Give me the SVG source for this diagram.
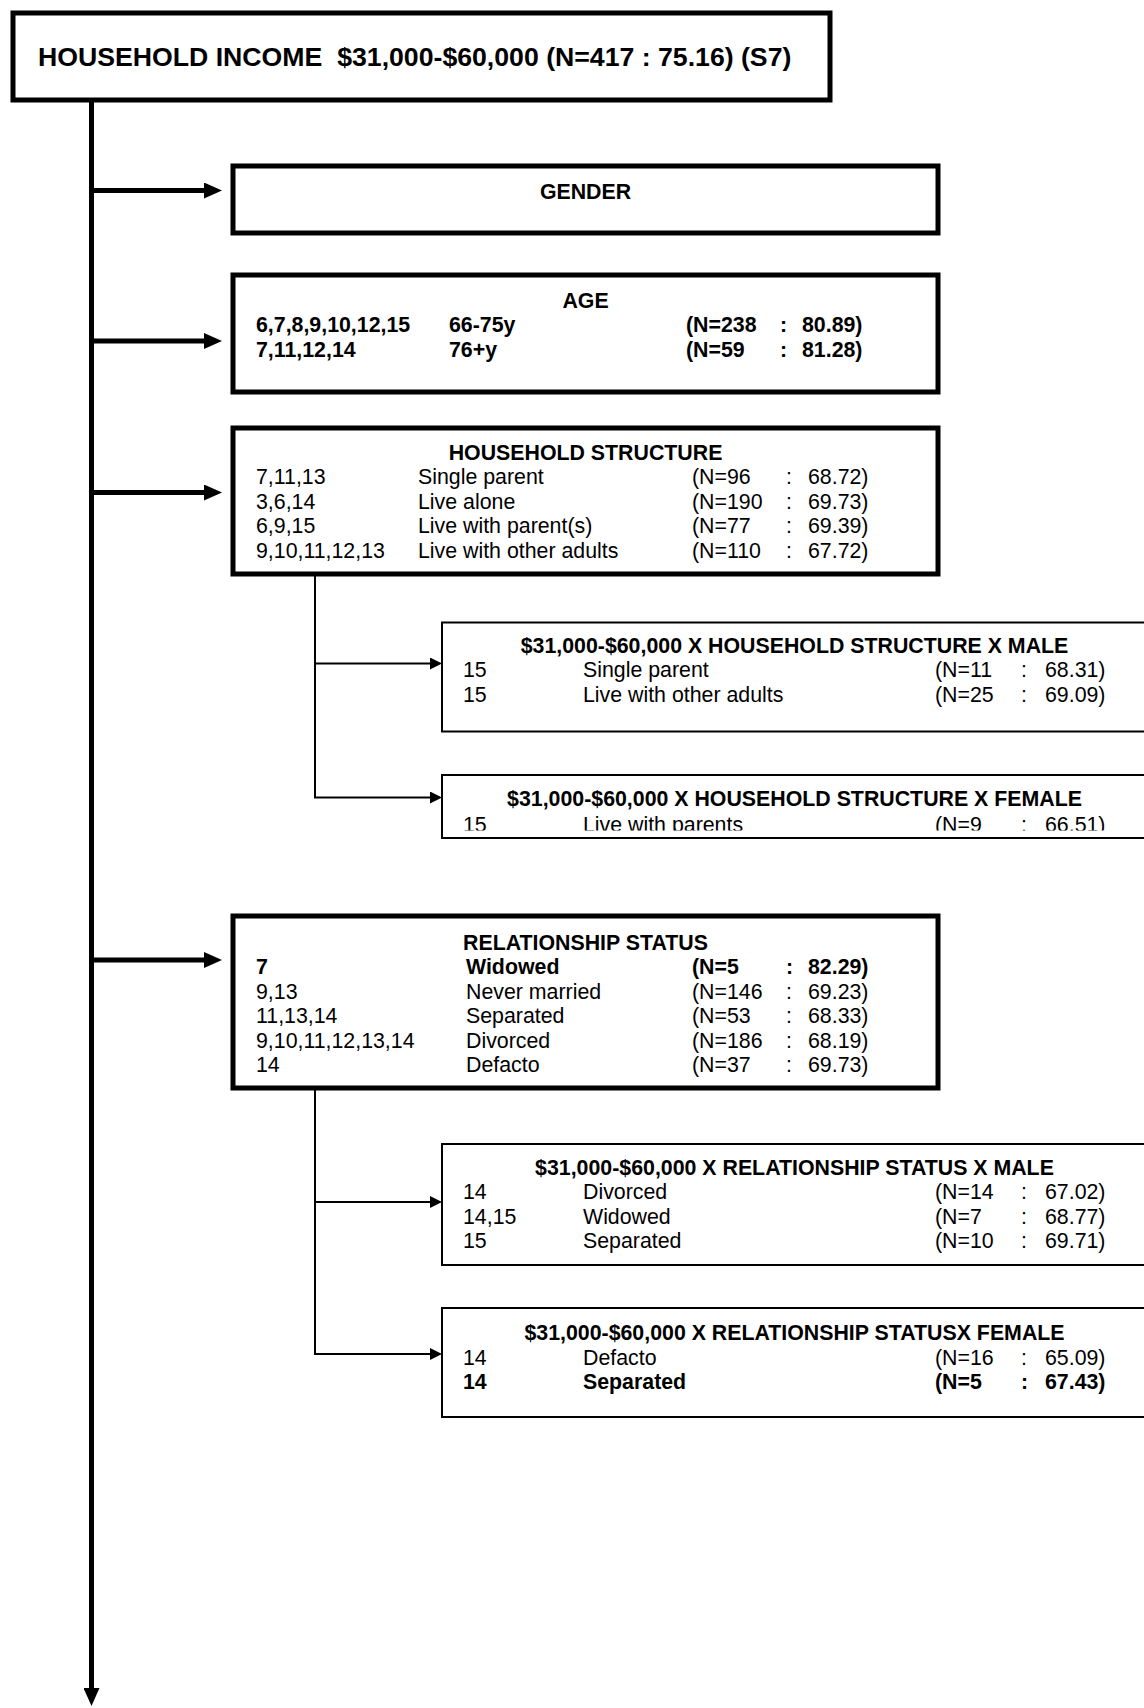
<svg xmlns="http://www.w3.org/2000/svg" width="1144" height="1708" viewBox="0 0 1144 1708">
<style>
.bx{fill:#fff;stroke:#000;stroke-width:5}
.sbx{fill:#fff;stroke:#000;stroke-width:2}
.tk{fill:none;stroke:#000;stroke-width:5}
.tn{fill:none;stroke:#000;stroke-width:2}
text{font-family:"Liberation Sans",Arial,sans-serif;font-size:21.33px;fill:#000}
.b{font-weight:bold}
.c{text-anchor:middle}
.h{font-size:26.67px;font-weight:bold}
</style>
<defs>
<marker id="ah" markerUnits="userSpaceOnUse" markerWidth="18" markerHeight="16" refX="2" refY="8" orient="auto"><path d="M0,0 L18,8 L0,16 z" fill="#000"/></marker>
<marker id="as" markerUnits="userSpaceOnUse" markerWidth="12" markerHeight="12" refX="2" refY="6" orient="auto"><path d="M0,0 L12,6 L0,12 z" fill="#000"/></marker>
<clipPath id="clipF"><rect x="443" y="776" width="703" height="54.5"/></clipPath>
</defs>
<rect width="1144" height="1708" fill="#fff"/>

<g id="connectors">
<line class="tk" x1="91.5" y1="100" x2="91.5" y2="1690" marker-end="url(#ah)"/>
<line class="tk" x1="91.5" y1="190.5" x2="206" y2="190.5" marker-end="url(#ah)"/>
<line class="tk" x1="91.5" y1="341" x2="206" y2="341" marker-end="url(#ah)"/>
<line class="tk" x1="91.5" y1="492.5" x2="206" y2="492.5" marker-end="url(#ah)"/>
<line class="tk" x1="91.5" y1="960" x2="206" y2="960" marker-end="url(#ah)"/>
<polyline class="tn" points="315,574 315,797.5"/>
<line class="tn" x1="315" y1="663.5" x2="432" y2="663.5" marker-end="url(#as)"/>
<line class="tn" x1="314" y1="797.5" x2="432" y2="797.5" marker-end="url(#as)"/>
<polyline class="tn" points="315,1088 315,1354"/>
<line class="tn" x1="315" y1="1202" x2="432" y2="1202" marker-end="url(#as)"/>
<line class="tn" x1="314" y1="1354" x2="432" y2="1354" marker-end="url(#as)"/>
</g>

<g id="main">
<rect class="bx" x="13" y="13" width="817" height="87"/>
<text class="h" x="38" y="66">HOUSEHOLD INCOME&#160; $31,000-$60,000 (N=417 : 75.16) (S7)</text>
</g>

<g id="gender">
<rect class="bx" x="233" y="166" width="705" height="67"/>
<text class="b c" x="585.5" y="199">GENDER</text>
</g>

<g id="age">
<rect class="bx" x="233" y="275" width="705" height="117"/>
<text class="b c" x="585.5" y="308">AGE</text>
<text class="b" x="256" y="332">6,7,8,9,10,12,15</text>
<text class="b" x="449" y="332">66-75y</text>
<text class="b" x="686" y="332">(N=238</text>
<text class="b" x="780" y="332">:</text>
<text class="b" x="802" y="332">80.89)</text>
<text class="b" x="256" y="356.5">7,11,12,14</text>
<text class="b" x="449" y="356.5">76+y</text>
<text class="b" x="686" y="356.5">(N=59</text>
<text class="b" x="780" y="356.5">:</text>
<text class="b" x="802" y="356.5">81.28)</text>
</g>

<g id="household-structure">
<rect class="bx" x="233" y="428" width="705" height="146"/>
<text class="b c" x="585.5" y="459.5">HOUSEHOLD STRUCTURE</text>
<text x="256" y="484">7,11,13</text><text x="418" y="484">Single parent</text><text x="692" y="484">(N=96</text><text x="786" y="484">:</text><text x="808" y="484">68.72)</text>
<text x="256" y="508.5">3,6,14</text><text x="418" y="508.5">Live alone</text><text x="692" y="508.5">(N=190</text><text x="786" y="508.5">:</text><text x="808" y="508.5">69.73)</text>
<text x="256" y="533">6,9,15</text><text x="418" y="533">Live with parent(s)</text><text x="692" y="533">(N=77</text><text x="786" y="533">:</text><text x="808" y="533">69.39)</text>
<text x="256" y="557.5">9,10,11,12,13</text><text x="418" y="557.5">Live with other adults</text><text x="692" y="557.5">(N=110</text><text x="786" y="557.5">:</text><text x="808" y="557.5">67.72)</text>
</g>

<g id="hs-male">
<rect class="sbx" x="442" y="622.5" width="705" height="109"/>
<text class="b c" x="794.5" y="652.5">$31,000-$60,000 X HOUSEHOLD STRUCTURE X MALE</text>
<text x="463" y="677">15</text><text x="583" y="677">Single parent</text><text x="935" y="677">(N=11</text><text x="1021" y="677">:</text><text x="1045" y="677">68.31)</text>
<text x="463" y="701.5">15</text><text x="583" y="701.5">Live with other adults</text><text x="935" y="701.5">(N=25</text><text x="1021" y="701.5">:</text><text x="1045" y="701.5">69.09)</text>
</g>

<g id="hs-female">
<rect class="sbx" x="442" y="775" width="705" height="63"/>
<text class="b c" x="794.5" y="805.5">$31,000-$60,000 X HOUSEHOLD STRUCTURE X FEMALE</text>
<g clip-path="url(#clipF)">
<text x="463" y="832">15</text><text x="583" y="832">Live with parents</text><text x="935" y="832">(N=9</text><text x="1021" y="832">:</text><text x="1045" y="832">66.51)</text>
</g>
</g>

<g id="relationship-status">
<rect class="bx" x="233" y="916" width="705" height="172"/>
<text class="b c" x="585.5" y="950">RELATIONSHIP STATUS</text>
<text class="b" x="256" y="974">7</text><text class="b" x="466" y="974">Widowed</text><text class="b" x="692" y="974">(N=5</text><text class="b" x="786" y="974">:</text><text class="b" x="808" y="974">82.29)</text>
<text x="256" y="998.5">9,13</text><text x="466" y="998.5">Never married</text><text x="692" y="998.5">(N=146</text><text x="786" y="998.5">:</text><text x="808" y="998.5">69.23)</text>
<text x="256" y="1023">11,13,14</text><text x="466" y="1023">Separated</text><text x="692" y="1023">(N=53</text><text x="786" y="1023">:</text><text x="808" y="1023">68.33)</text>
<text x="256" y="1047.5">9,10,11,12,13,14</text><text x="466" y="1047.5">Divorced</text><text x="692" y="1047.5">(N=186</text><text x="786" y="1047.5">:</text><text x="808" y="1047.5">68.19)</text>
<text x="256" y="1072">14</text><text x="466" y="1072">Defacto</text><text x="692" y="1072">(N=37</text><text x="786" y="1072">:</text><text x="808" y="1072">69.73)</text>
</g>

<g id="rs-male">
<rect class="sbx" x="442" y="1144" width="705" height="121"/>
<text class="b c" x="794.5" y="1174.5">$31,000-$60,000 X RELATIONSHIP STATUS X MALE</text>
<text x="463" y="1199">14</text><text x="583" y="1199">Divorced</text><text x="935" y="1199">(N=14</text><text x="1021" y="1199">:</text><text x="1045" y="1199">67.02)</text>
<text x="463" y="1223.5">14,15</text><text x="583" y="1223.5">Widowed</text><text x="935" y="1223.5">(N=7</text><text x="1021" y="1223.5">:</text><text x="1045" y="1223.5">68.77)</text>
<text x="463" y="1248">15</text><text x="583" y="1248">Separated</text><text x="935" y="1248">(N=10</text><text x="1021" y="1248">:</text><text x="1045" y="1248">69.71)</text>
</g>

<g id="rs-female">
<rect class="sbx" x="442" y="1308" width="705" height="109"/>
<text class="b c" x="794.5" y="1340">$31,000-$60,000 X RELATIONSHIP STATUSX FEMALE</text>
<text x="463" y="1364.5">14</text><text x="583" y="1364.5">Defacto</text><text x="935" y="1364.5">(N=16</text><text x="1021" y="1364.5">:</text><text x="1045" y="1364.5">65.09)</text>
<text class="b" x="463" y="1389">14</text><text class="b" x="583" y="1389">Separated</text><text class="b" x="935" y="1389">(N=5</text><text class="b" x="1021" y="1389">:</text><text class="b" x="1045" y="1389">67.43)</text>
</g>
</svg>
